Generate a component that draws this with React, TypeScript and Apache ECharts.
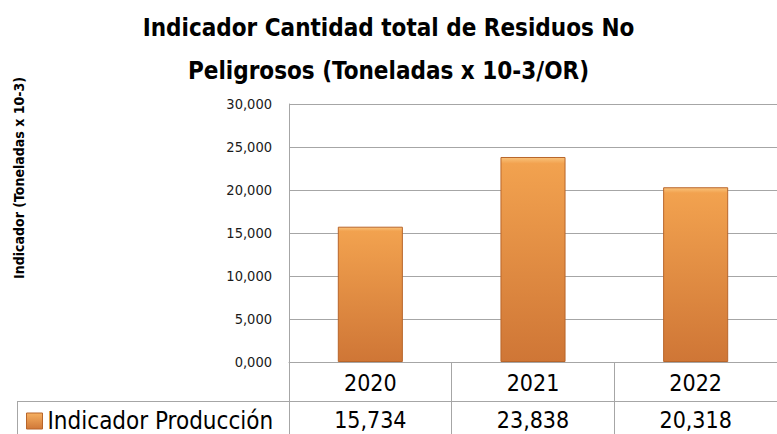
import React, { useEffect, useRef } from "react";
import * as echarts from "echarts";

const categories = ["2020", "2021", "2022"];
const seriesName = "Indicador Producción";
const values = [15.734, 23.838, 20.318];
const yTicks = { min: 0, max: 30, interval: 5 };
const titleLines = ["Indicador Cantidad total de Residuos No", "Peligrosos (Toneladas x 10-3/OR)"];
const yAxisName = "Indicador (Toneladas x 10-3)";

const FONT = "'Liberation Sans Narrow', 'DejaVu Sans Condensed', 'Liberation Sans', sans-serif";
const fmt = (v: number) => v.toFixed(3).replace(".", ",");

export default function App() {
  const ref = useRef<HTMLDivElement>(null);
  useEffect(() => {
    document.body.style.margin = "0";
    const chart = echarts.init(ref.current!, null, { renderer: "svg" });
    const barColor = new echarts.graphic.LinearGradient(0, 0, 0, 1, [
      { offset: 0, color: "#F9C27A" },
      { offset: 0.03, color: "#F2A24F" },
      { offset: 1, color: "#CF7636" },
    ]);
    const legendColor = new echarts.graphic.LinearGradient(0, 0, 0, 1, [
      { offset: 0, color: "#F6B060" },
      { offset: 1, color: "#D07838" },
    ]);
    chart.setOption({
      animation: false,
      textStyle: { fontFamily: FONT },
      title: {
        text: titleLines.join("\n"),
        left: "center",
        top: 1,
        textStyle: { fontSize: 24, fontWeight: "bold", color: "#000", lineHeight: 43, fontFamily: FONT },
      },
      legend: {
        left: 26,
        top: 408,
        icon: "rect",
        itemWidth: 16,
        itemHeight: 16,
        itemGap: 6,
        padding: 0,
        textStyle: { fontSize: 24, color: "#000", fontFamily: FONT, lineHeight: 26 },
        data: [{ name: seriesName, itemStyle: { color: legendColor, borderColor: "#B8652A", borderWidth: 1 } }],
      },
      grid: { left: 289, top: 104, width: 504, height: 258, containLabel: false },
      xAxis: [
        {
          type: "category",
          data: categories,
          axisLine: { show: true, lineStyle: { color: "#A6A6A6", width: 1 } },
          axisTick: { show: true, alignWithLabel: false, length: 72, lineStyle: { color: "#A6A6A6" } },
          axisLabel: { margin: 9, fontSize: 23, color: "#000", fontFamily: FONT },
        },
        {
          type: "category",
          position: "bottom",
          offset: 38,
          data: values.map(fmt),
          axisLine: { show: false },
          axisTick: { show: false },
          axisLabel: { margin: 8, fontSize: 23, color: "#000", fontFamily: FONT },
        },
      ],
      yAxis: {
        type: "value",
        min: yTicks.min,
        max: yTicks.max,
        interval: yTicks.interval,
        axisLine: { show: true, lineStyle: { color: "#A6A6A6" } },
        axisTick: { show: false },
        splitLine: { show: true, lineStyle: { color: "#A6A6A6", width: 1 } },
        axisLabel: { formatter: (v: number) => fmt(v), fontSize: 14.5, color: "#1A1A1A", margin: 17, fontFamily: FONT },
      },
      graphic: [
        {
          type: "text",
          x: 19,
          y: 178,
          rotation: Math.PI / 2,
          style: {
            text: yAxisName,
            fontSize: 14,
            fontWeight: "bold",
            fill: "#000",
            align: "center",
            verticalAlign: "middle",
            fontFamily: FONT,
          },
        },
        { type: "line", shape: { x1: 17, y1: 401.5, x2: 777, y2: 401.5 }, style: { stroke: "#A6A6A6", lineWidth: 1 } },
        { type: "line", shape: { x1: 17.5, y1: 401, x2: 17.5, y2: 434 }, style: { stroke: "#A6A6A6", lineWidth: 1 } },
      ],
      series: [
        {
          name: seriesName,
          type: "bar",
          data: values,
          barWidth: "40%",
          itemStyle: { color: barColor, borderColor: "#B8652A", borderWidth: 1 },
        },
      ],
    });
    return () => chart.dispose();
  }, []);
  return <div ref={ref} style={{ position: "absolute", left: 0, top: 0, width: 777, height: 434 }} />;
}
